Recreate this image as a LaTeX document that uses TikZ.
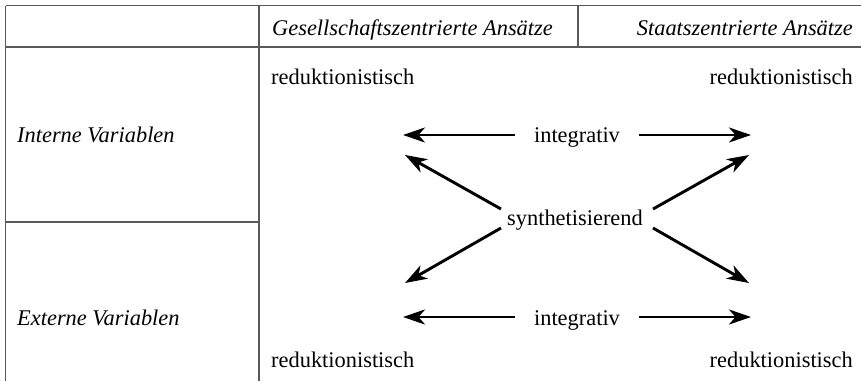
\documentclass[tikz,border=0pt]{standalone}
\usepackage{fontspec}
\setmainfont{Liberation Serif}
\usetikzlibrary{arrows.meta}

\tikzset{
  rule/.style={draw=black!65, line width=1.3pt},
  lbl/.style={inner sep=0pt, font=\fontsize{22.4}{26}\selectfont},
  hdr/.style={lbl, font=\fontsize{22.4}{26}\selectfont\itshape},
  flow/.style={line width=2.9pt, -{Stealth[length=22pt, width=15pt, inset=6.5pt]}}
}

\begin{document}
\begin{tikzpicture}[x=1pt, y=1pt]
  \useasboundingbox (0,0) rectangle (861,-381);

  % table frame
  \draw[rule] (5.5,-5.5) -- (861,-5.5);
  \draw[rule] (5.5,-47) -- (861,-47);
  \draw[rule] (5.5,-5.5) -- (5.5,-381);
  \draw[rule] (259,-5.5) -- (259,-381);
  \draw[rule] (578,-5.5) -- (578,-47);
  \draw[rule] (5.5,-222) -- (259,-222);

  % header and row labels
  \node[hdr, anchor=base west] (hsoc) at (272,-35) {Gesellschaftszentrierte Ansätze};
  \node[hdr, anchor=base east] (hsta) at (853,-35) {Staatszentrierte Ansätze};
  \node[hdr, anchor=base west] (rint) at (17,-142) {Interne Variablen};
  \node[hdr, anchor=base west] (rext) at (17,-325) {Externe Variablen};

  % corner labels
  \node[lbl, anchor=base west] (rtl) at (271,-84) {reduktionistisch};
  \node[lbl, anchor=base east] (rtr) at (853,-84) {reduktionistisch};
  \node[lbl, anchor=base west] (rbl) at (271,-367) {reduktionistisch};
  \node[lbl, anchor=base east] (rbr) at (853,-367) {reduktionistisch};

  % centre labels
  \node[lbl, anchor=base] (itop) at (577,-142) {integrativ};
  \node[lbl, anchor=base] (ibot) at (577,-325) {integrativ};
  \node[lbl, anchor=base] (syn) at (575,-225) {synthetisierend};

  % arrow end points
  \coordinate (tl) at (403,-135);
  \coordinate (tr) at (751,-135);
  \coordinate (bl) at (403,-317);
  \coordinate (br) at (751,-317);
  \coordinate (tlt) at (515,-135);
  \coordinate (trt) at (639,-135);
  \coordinate (blt) at (515,-317);
  \coordinate (brt) at (639,-317);
  \coordinate (dul) at (405,-155);
  \coordinate (dur) at (749,-155);
  \coordinate (dll) at (405,-283);
  \coordinate (dlr) at (749,-283);
  \coordinate (sul) at (501,-209);
  \coordinate (sur) at (653,-209);
  \coordinate (sll) at (501,-228);
  \coordinate (slr) at (653,-228);

  % integrative arrows
  \draw[flow] (tlt) -- (tl);
  \draw[flow] (trt) -- (tr);
  \draw[flow] (blt) -- (bl);
  \draw[flow] (brt) -- (br);

  % synthesising arrows
  \draw[flow] (sul) -- (dul);
  \draw[flow] (sur) -- (dur);
  \draw[flow] (sll) -- (dll);
  \draw[flow] (slr) -- (dlr);
\end{tikzpicture}
\end{document}
